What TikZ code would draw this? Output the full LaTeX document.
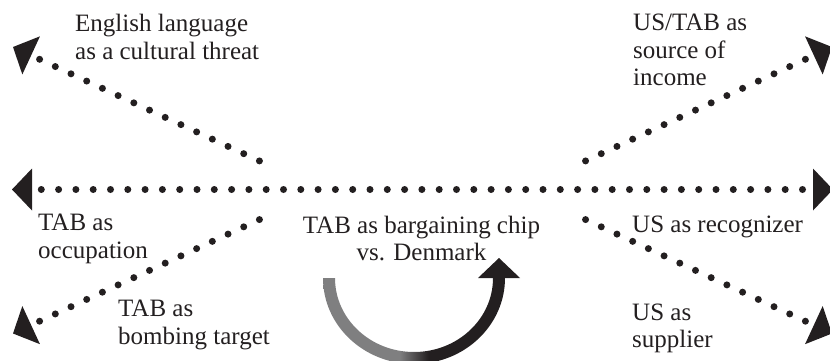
\documentclass[tikz,border=0pt]{standalone}
\usepackage{fontspec}
\setmainfont{Liberation Serif}
\usetikzlibrary{arrows.meta}

\definecolor{ink}{HTML}{231F20}
\definecolor{loopgray}{HTML}{7F7F80}
% grey on the left half of the loop, black on the right half
\pgfdeclarehorizontalshading{loopshade}{100bp}{color(0bp)=(loopgray); color(46bp)=(loopgray); color(54bp)=(ink); color(100bp)=(ink)}

\begin{document}
\begin{tikzpicture}[x=1pt,y=1pt,>={Triangle[length=20pt,width=42pt,line width=0pt]}]
    \tikzstyle{spoke}=[draw=ink, line width=7pt, line cap=round, dash pattern=on 0pt off 17.3pt, dash phase=8pt]
    \tikzstyle{annot}=[inner sep=0pt, text=ink, font=\fontsize{25}{27.5}\selectfont]

    \useasboundingbox (0,0) rectangle (830,360);

    % Ends of the dotted spokes
    \coordinate (hub-west) at (12,170.5);
    \coordinate (hub-east) at (833,170.5);
    \coordinate (nw-in) at (265,196.5);
    \coordinate (nw-out) at (13,313);
    \coordinate (ne-in) at (580,196.5);
    \coordinate (ne-out) at (832,313);
    \coordinate (sw-in) at (265,143);
    \coordinate (sw-out) at (13,26.5);
    \coordinate (se-in) at (580,143);
    \coordinate (se-out) at (832,26.5);

    % Draw the spokes
    \draw[spoke,<->] (hub-west) -- (hub-east);
    \foreach \dir in {nw,ne,sw,se}
      \draw[spoke,<-] (\dir-out) -- (\dir-in);

    % Draw the labels
    \node[annot, anchor=north west, align=left] (threat) at (75,345.6) {English language\\as a cultural threat};
    \node[annot, anchor=north west, align=left] (income) at (633,345.9) {US/TAB as\\source of\\income};
    \node[annot, anchor=north west, align=left] (occupation) at (38,145.9) {TAB as\\occupation};
    \node[annot, anchor=north west, align=left] (target) at (118,59.9) {TAB as\\bombing target};
    \node[annot, anchor=north, align=center] (chip) at (421.5,144.1) {TAB as bargaining chip\\vs. Denmark};
    \node[annot, anchor=base west] (recognizer) at (632,128) {US as recognizer};
    \node[annot, anchor=north west, align=left] (supplier) at (632,56.6) {US as\\supplier};

    % Loop under the middle label
    \shade[shading=loopshade] (323,82) arc[start angle=180, end angle=360, x radius=91, y radius=86]
      -- (493,82) arc[start angle=0, end angle=-180, x radius=79, y radius=74] -- cycle;
    \fill[ink] (478,82) -- (520,82) -- (499,102) -- cycle;
\end{tikzpicture}
\end{document}
